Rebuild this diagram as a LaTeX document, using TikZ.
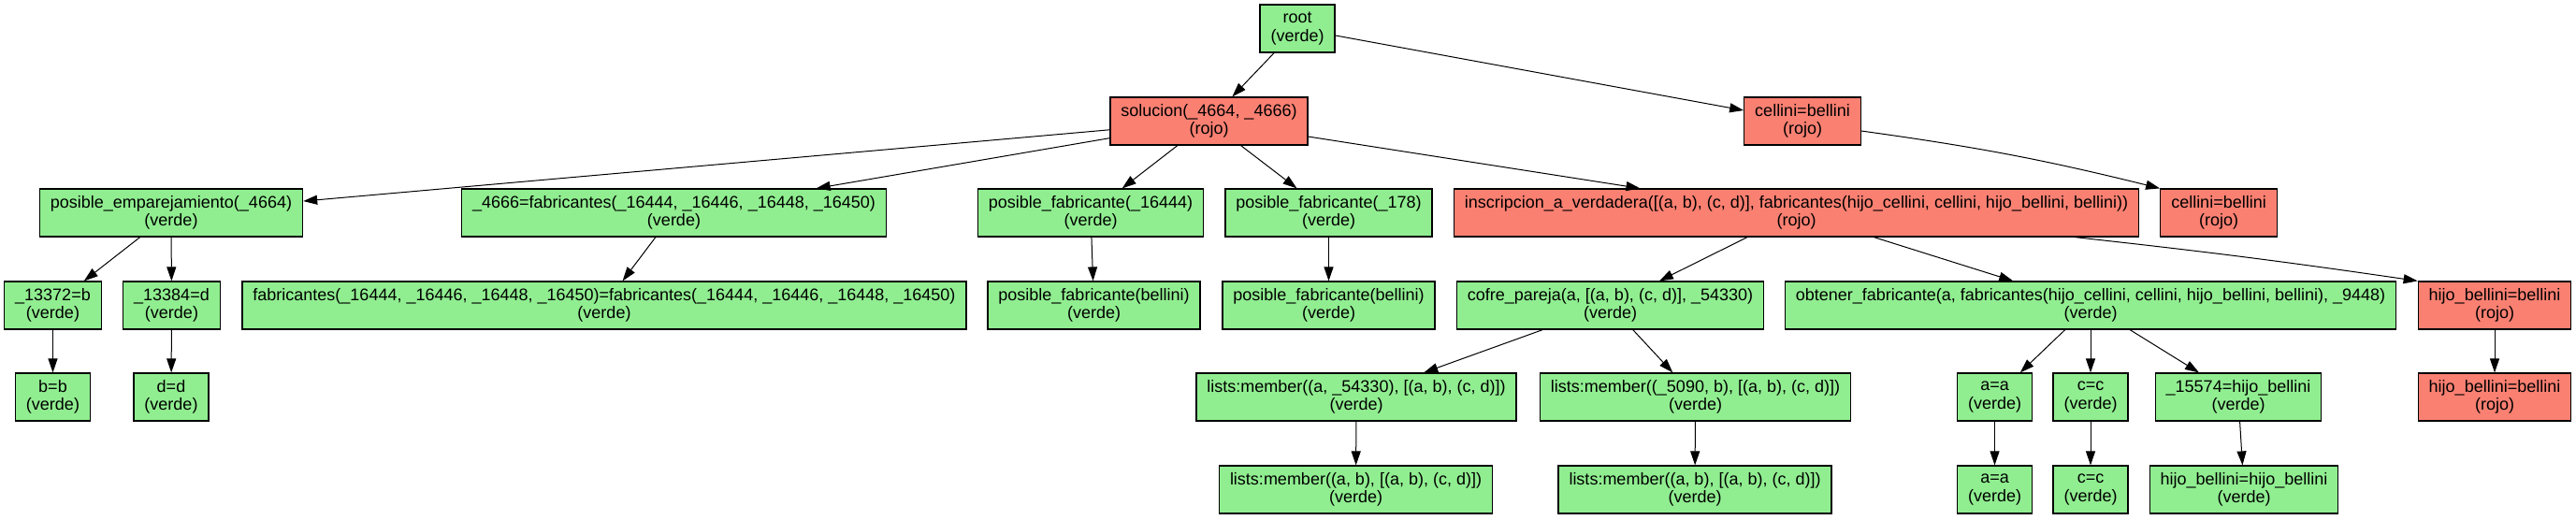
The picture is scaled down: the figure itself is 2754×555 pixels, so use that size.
\documentclass[tikz,border=0pt]{standalone}
\usepackage{fontspec}
\setmainfont{Liberation Sans}
\usetikzlibrary{arrows.meta}
\definecolor{VerdeNodo}{HTML}{90EE90}
\definecolor{RojoNodo}{HTML}{FA8072}

\begin{document}
\begin{tikzpicture}[x=1pt, y=-1pt,
    caja/.style={draw=black, line width=1.2pt, rectangle, align=center,
      minimum width=79pt, minimum height=51pt, inner xsep=11.5pt,
      font=\fontsize{18pt}{19.5pt}\selectfont},
    verde/.style={caja, fill=VerdeNodo},
    rojo/.style={caja, fill=RojoNodo},
    flecha/.style={-{Triangle[length=15pt,width=10pt]}, line width=1pt}]
  \useasboundingbox (0,0) rectangle (2754,555);
  % niveles 0 y 1
  \node[verde] (root) at (1387,30.5) {root\\(verde)};
  \node[rojo] (sol) at (1292.5,129.5) {solucion(\_4664, \_4666)\\(rojo)};
  \node[rojo] (cell1) at (1927,129.5) {cellini=bellini\\(rojo)};
  % nivel 2
  \node[verde] (pe) at (183,227.5) {posible\_emparejamiento(\_4664)\\(verde)};
  \node[verde] (eq4666) at (720.5,227.5) {\_4666=fabricantes(\_16444, \_16446, \_16448, \_16450)\\(verde)};
  \node[verde] (pf1) at (1166,227.5) {posible\_fabricante(\_16444)\\(verde)};
  \node[verde] (pf2) at (1420.5,227.5) {posible\_fabricante(\_178)\\(verde)};
  \node[rojo] (insc) at (1920.5,227.5) {inscripcion\_a\_verdadera([(a, b), (c, d)], fabricantes(hijo\_cellini, cellini, hijo\_bellini, bellini))\\(rojo)};
  \node[rojo] (cell2) at (2372,227.5) {cellini=bellini\\(rojo)};
  % nivel 3
  \node[verde] (v13372) at (56.5,326.5) {\_13372=b\\(verde)};
  \node[verde] (v13384) at (183.5,326.5) {\_13384=d\\(verde)};
  \node[verde] (fabeq) at (646,326.5) {fabricantes(\_16444, \_16446, \_16448, \_16450)=fabricantes(\_16444, \_16446, \_16448, \_16450)\\(verde)};
  \node[verde] (pfb1) at (1169.5,326.5) {posible\_fabricante(bellini)\\(verde)};
  \node[verde] (pfb2) at (1420.5,326.5) {posible\_fabricante(bellini)\\(verde)};
  \node[verde] (cofre) at (1721.5,326.5) {cofre\_pareja(a, [(a, b), (c, d)], \_54330)\\(verde)};
  \node[verde] (obt) at (2235,326.5) {obtener\_fabricante(a, fabricantes(hijo\_cellini, cellini, hijo\_bellini, bellini), \_9448)\\(verde)};
  \node[rojo] (hb1) at (2667,326.5) {hijo\_bellini=bellini\\(rojo)};
  % nivel 4
  \node[verde] (bb) at (56.5,424.5) {b=b\\(verde)};
  \node[verde] (dd) at (183,424.5) {d=d\\(verde)};
  \node[verde] (lm1) at (1450,424.5) {lists:member((a, \_54330), [(a, b), (c, d)])\\(verde)};
  \node[verde] (lm2) at (1812.5,424.5) {lists:member((\_5090, b), [(a, b), (c, d)])\\(verde)};
  \node[verde] (aa1) at (2132.5,424.5) {a=a\\(verde)};
  \node[verde] (cc1) at (2235,424.5) {c=c\\(verde)};
  \node[verde] (v15574) at (2393,424.5) {\_15574=hijo\_bellini\\(verde)};
  \node[rojo] (hb2) at (2667,424.5) {hijo\_bellini=bellini\\(rojo)};
  % nivel 5
  \node[verde] (lm3) at (1449.5,523.5) {lists:member((a, b), [(a, b), (c, d)])\\(verde)};
  \node[verde] (lm4) at (1812,523.5) {lists:member((a, b), [(a, b), (c, d)])\\(verde)};
  \node[verde] (aa2) at (2132.5,523.5) {a=a\\(verde)};
  \node[verde] (cc2) at (2235,523.5) {c=c\\(verde)};
  \node[verde] (hbhb) at (2399,523.5) {hijo\_bellini=hijo\_bellini\\(verde)};
  % aristas
  \foreach \a/\b in {root/sol, root/cell1, sol/pe, sol/eq4666, sol/pf1, sol/pf2,
      sol/insc, pe/v13372, pe/v13384, eq4666/fabeq, pf1/pfb1, pf2/pfb2,
      insc/cofre, insc/obt, hb1/hb2, v13372/bb, v13384/dd, cofre/lm1,
      cofre/lm2, obt/aa1, obt/cc1, obt/v15574, lm1/lm3, lm2/lm4, aa1/aa2,
      cc1/cc2, v15574/hbhb}
    \draw[flecha] (\a) -- (\b);
  \draw[flecha] ([yshift=-10.5pt]cell1.east) to[bend left=3] (cell2.north west);
  \draw[flecha] ([xshift=-69pt]insc.south east) to[bend left=1] (hb1.north west);
\end{tikzpicture}
\end{document}
